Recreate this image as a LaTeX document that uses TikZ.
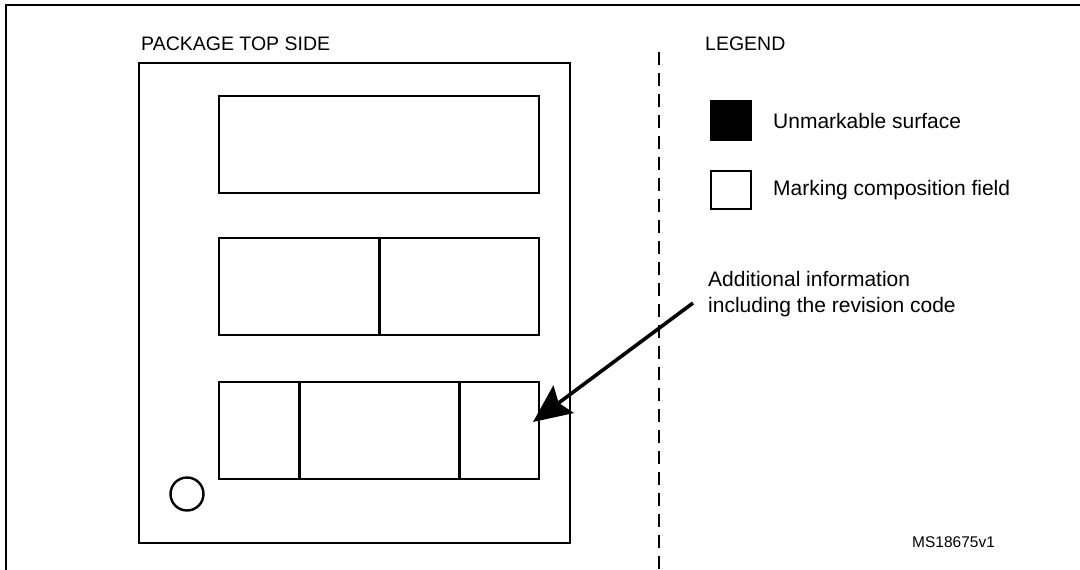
\documentclass[tikz,border=0pt]{standalone}
\usepackage{fontspec}
\setmainfont{Liberation Sans}
\usetikzlibrary{calc,arrows.meta}

\begin{document}
\begin{tikzpicture}[x=1pt,y=-1pt,line join=miter,
  box/.style={line width=2.6pt},
  cut/.style={line width=3pt},
  txt/.style={inner sep=0pt,anchor=west,font=\fontsize{21}{26}\selectfont}]
\useasboundingbox (0,0) rectangle (1080,570);
\coordinate (f0) at (6,5);
\coordinate (p0) at (139,63);
\coordinate (p1) at (570,543);
\coordinate (dx) at (320,0);
\coordinate (dy) at (0,97);
\coordinate (r0) at (219,96);
\coordinate (r1) at (219,238);
\coordinate (r2) at (219,382);
\coordinate (tail) at (693,303);
\coordinate (tip) at (533,422);

\draw[line width=2.8pt] (f0 |- 0,570) -- (f0) -- (1080,5);

\draw[box] (p0) rectangle (p1);
\draw[box] (r0) rectangle ($(r0)+(dx)+(dy)$);
\draw[box] (r1) rectangle ($(r1)+(dx)+(dy)$);
\draw[box] (r2) rectangle ($(r2)+(dx)+(dy)$);
\draw[cut] ($(r1)+0.5*(dx)$) -- ++(dy);
\draw[cut] ($(r2)+0.25*(dx)$) -- ++(dy);
\draw[cut] ($(r2)+0.75*(dx)$) -- ++(dy);
\draw[line width=2.4pt] (187,494) circle(16.5);

\draw[line width=2.6pt,dash pattern=on 13pt off 8pt] (659,52) -- (659,570);

\node[txt,font=\fontsize{19.5}{24}\selectfont] (top) at (141,44) {PACKAGE TOP SIDE};
\node[txt,font=\fontsize{19.5}{24}\selectfont] (legend) at (705,44) {LEGEND};

\draw[fill=black,line width=1.5pt] (711,101) rectangle (751,140);
\draw[line width=2.6pt] (711,171) rectangle (751,209);
\node[txt] (unmark) at (773,121) {Unmarkable surface};
\node[txt] (field) at (773,190) {Marking composition field};
\node[txt,align=left] (info) at (708,294) {Additional information\\including the revision code};
\node[txt,font=\fontsize{15.5}{18}\selectfont] (ms) at (912,542) {MS18675v1};

\draw[line width=3.6pt,-{Stealth[length=38pt,width=34pt,inset=6pt]}] (tail) -- (tip);

\end{tikzpicture}
\end{document}
